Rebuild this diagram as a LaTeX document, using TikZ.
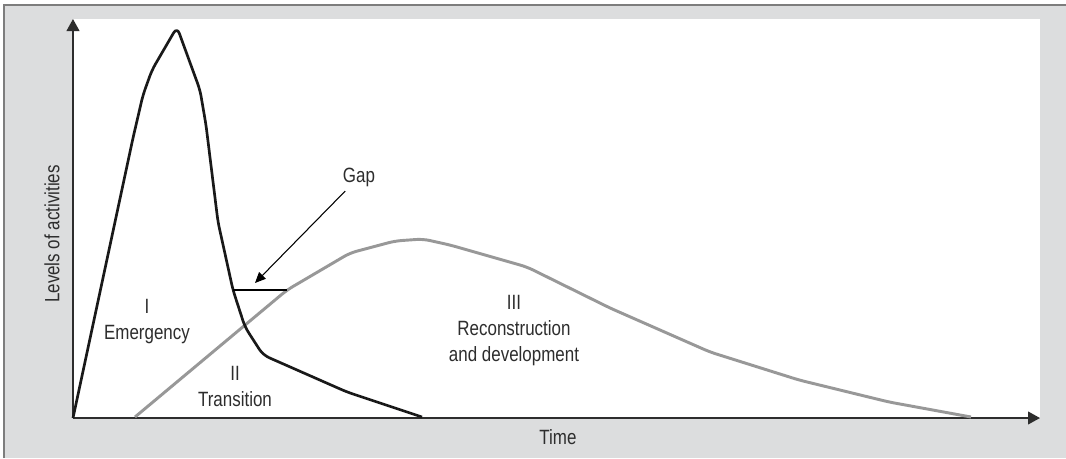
\documentclass[tikz,border=0pt]{standalone}
\usepackage{fontspec}
\setmainfont{Liberation Sans}[FakeStretch=0.82]
\usetikzlibrary{arrows.meta}

\definecolor{framegray}{RGB}{220,221,222}
\definecolor{bordergray}{RGB}{125,125,125}
\definecolor{curvegray}{RGB}{152,152,152}
\definecolor{inkgray}{RGB}{45,45,45}

\tikzset{
  every label text/.style={text=inkgray, font=\fontsize{15.5}{19.5}\selectfont},
  phase/.style={every label text, align=center, inner sep=0pt},
  axis line/.style={draw=inkgray, line width=1.5pt, -{Triangle[length=9pt, width=9.5pt]}},
  emergency curve/.style={draw=black!90, line width=2pt, line join=round, rounded corners=5pt},
  recovery curve/.style={draw=curvegray, line width=2.2pt, line join=round, rounded corners=5pt},
  gap arrow/.style={draw=black, line width=0.8pt, -{Triangle[length=8pt, width=7pt]}}
}

\begin{document}
\begin{tikzpicture}[x=0.75pt, y=-0.75pt]
    \useasboundingbox (0,0) rectangle (1066,458);

    % frame
    \fill[framegray] (4,5) rectangle (1066,458);
    \draw[bordergray, line width=1.2pt] (4,458) -- (4,5) -- (1066,5);
    \fill[white] (73,19) rectangle (1040,418);

    % axes
    \coordinate (origin) at (73,418);
    \coordinate (y-tip) at (73,19);
    \coordinate (x-tip) at (1040,418);
    \draw[axis line] (origin) -- (y-tip);
    \draw[axis line] (origin) -- (x-tip);

    \node[every label text, rotate=90] (y-label) at (52,234) {Levels of activities};
    \node[every label text] (x-label) at (558,437) {Time};

    % curves
    \draw[recovery curve] (135,417) -- (287,290) -- (350,253) -- (395,241) -- (423,239)
        -- (450,245) -- (527,267) -- (610,308) -- (710,352) -- (799,380) -- (889,402) -- (971,417);

    \draw[emergency curve] (origin) -- (133,138) -- (143,95) -- (152,70) -- (177,27)
        -- (200,90) -- (206,125) -- (218,222) -- (233,290) -- (245,327) -- (263,355)
        -- (347,392) -- (422,417);

    % gap
    \coordinate (gap-left) at (233,290);
    \coordinate (gap-right) at (287,290);
    \draw[black, line width=2pt] (gap-left) -- (gap-right);
    \node[every label text] (gap) at (359,177) {Gap};
    \coordinate (gap-end) at (255,283);
    \draw[gap arrow] (gap) -- (gap-end);

    % phases
    \node[phase] (emergency) at (147,322) {I\\Emergency};
    \node[phase] (transition) at (235,386) {II\\Transition};
    \node[phase] (reconstruction) at (514,331) {III\\Reconstruction\\and development};

\end{tikzpicture}
\end{document}
